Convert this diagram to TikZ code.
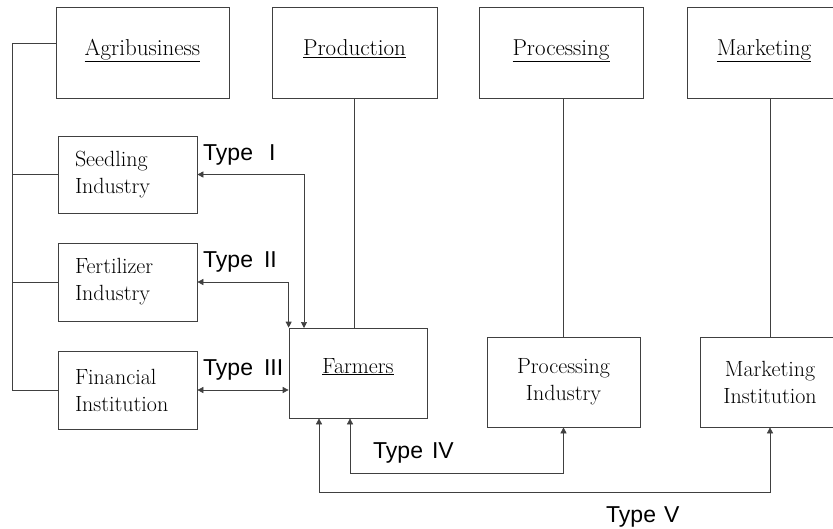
\documentclass[tikz,border=0pt]{standalone}
\usepackage{fontspec}
\newfontfamily\lsans{Liberation Sans}
\usetikzlibrary{arrows.meta}
\begin{document}
\begin{tikzpicture}[x=1pt,y=-1pt,
  ln/.style={line width=0.7pt, draw=black!75},
  box/.style={ln, rectangle, inner sep=0pt, font=\fontsize{22}{27}\selectfont},
  topbox/.style={box, minimum height=91pt, text height=16pt, text depth=10pt, font=\fontsize{23}{27}\selectfont},
  sidebox/.style={box, minimum width=139pt, text width=105pt, align=left},
  lowbox/.style={box, minimum height=90pt, align=center},
  typelbl/.style={anchor=base west, inner sep=0pt, font=\lsans\fontsize{23}{27}\selectfont},
  twoway/.style={ln, {Triangle[length=6pt,width=6pt]}-{Triangle[length=6pt,width=6pt]}}
]
\useasboundingbox (0,0) rectangle (833,528);
\clip (0,0) rectangle (833,528);
% top row
\node[topbox, minimum width=173pt] (agri) at (142.5,52.5) {\underline{Agribusiness}};
\node[topbox, minimum width=165pt] (prod) at (354.5,52.5) {\underline{Production}};
\node[topbox, minimum width=164pt] (proc) at (561,52.5) {\underline{Processing}};
\node[topbox, minimum width=154pt] (mark) at (764,52.5) {\underline{Marketing}};
% agribusiness members
\node[sidebox, minimum height=77pt] (seed) at (127.5,174.5) {Seedling\\Industry};
\node[sidebox, minimum height=78pt] (fert) at (127.5,282) {Fertilizer\\Industry};
\node[sidebox, minimum height=78pt] (fin) at (127.5,390) {Financial\\Institution};
% lower row
\node[lowbox, minimum width=138pt, text height=12pt, text depth=12pt] (farm) at (358,373) {\underline{Farmers}};
\node[lowbox, minimum width=153pt] (procind) at (563.5,382) {Processing\\Industry};
\node[lowbox, minimum width=140pt] (markinst) at (770,382) {Marketing\\Institution};
% bus on the left
\coordinate (busT) at (12,43);
\draw[ln] (agri.west |- busT) -- (busT) |- (fin.west);
\draw[ln] (seed.west) -- (seed.west -| busT);
\draw[ln] (fert.west) -- (fert.west -| busT);
% vertical sector lines
\draw[ln] (prod.south) -- (prod.south |- farm.north);
\draw[ln] (procind.north |- proc.south) -- (procind.north);
\draw[ln] (markinst.north |- mark.south) -- (markinst.north);
% types
\coordinate (t1) at (304,328);
\draw[twoway] (seed.east) -| (t1);
\draw[twoway] (fert.east) -| (farm.north west);
\draw[twoway] (fin.east) -- (fin.east -| farm.west);
\coordinate (t4) at (350,473);
\draw[twoway] (farm.south -| t4) -- (t4) -| (procind.south);
\coordinate (t5) at (319,492);
\draw[twoway] (farm.south -| t5) -- (t5) -| (markinst.south);
% labels
\node[typelbl] (l1) at (203,160) {Type\hspace{16pt}I};
\node[typelbl] (l2) at (203,267) {Type\hspace{11pt}II};
\node[typelbl] (l3) at (203,375) {Type\hspace{11pt}III};
\node[typelbl] (l4) at (373,458) {Type\hspace{9pt}IV};
\node[typelbl] (l5) at (606,522) {Type\hspace{8pt}V};
\end{tikzpicture}
\end{document}
